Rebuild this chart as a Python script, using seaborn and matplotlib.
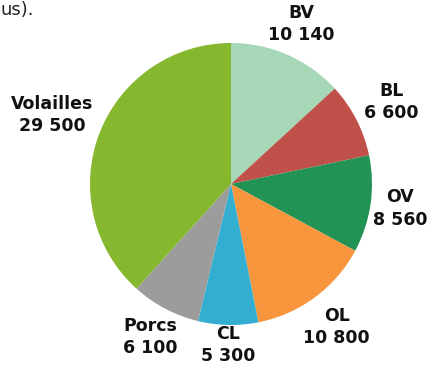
import numpy as np
import matplotlib
matplotlib.use("Agg")
import matplotlib.pyplot as plt
import seaborn as sns

sns.set_theme(style="white")
plt.rcParams['font.family'] = ['DejaVu Sans']

categories = ["BV", "BL", "OV", "OL", "CL", "Porcs", "Volailles"]
values = [10140, 6600, 8560, 10800, 5300, 6100, 29500]
value_labels = ["10 140", "6 600", "8 560", "10 800", "5 300", "6 100", "29 500"]
colors = ["#a6d8b8", "#c0504a", "#229255", "#f7963c", "#33aed0", "#9c9c9c", "#85b72f"]
label_dist = [1.24, 1.28, 1.21, 1.26, 1.14, 1.23, 1.36]

W, H = 428, 369
cx, cy, R = 231, 184, 141
fig = plt.figure(figsize=(W / 100, H / 100), dpi=100)
ax = fig.add_axes([0, 0, 1, 1])

wedges, _ = ax.pie(values, colors=colors, startangle=90, counterclock=False,
                   wedgeprops=dict(linewidth=0))
ax.set_xlim(-cx / R, (W - cx) / R)
ax.set_ylim(-(H - cy) / R, cy / R)
ax.set_aspect('auto')
ax.axis('off')

for w, cat, vl, d in zip(wedges, categories, value_labels, label_dist):
    ang = np.deg2rad((w.theta1 + w.theta2) / 2)
    x, y = d * np.cos(ang), d * np.sin(ang)
    ax.text(x, y, f"{cat}\n{vl}", ha="center", va="center", fontsize=12.5,
            fontweight="bold", color="#111111", linespacing=1.3)

fig.text(1 / W, 1 - 15 / H, "us).", ha="left", va="baseline", fontsize=13,
         color="#222222")

fig.savefig("out.png", dpi=100)
